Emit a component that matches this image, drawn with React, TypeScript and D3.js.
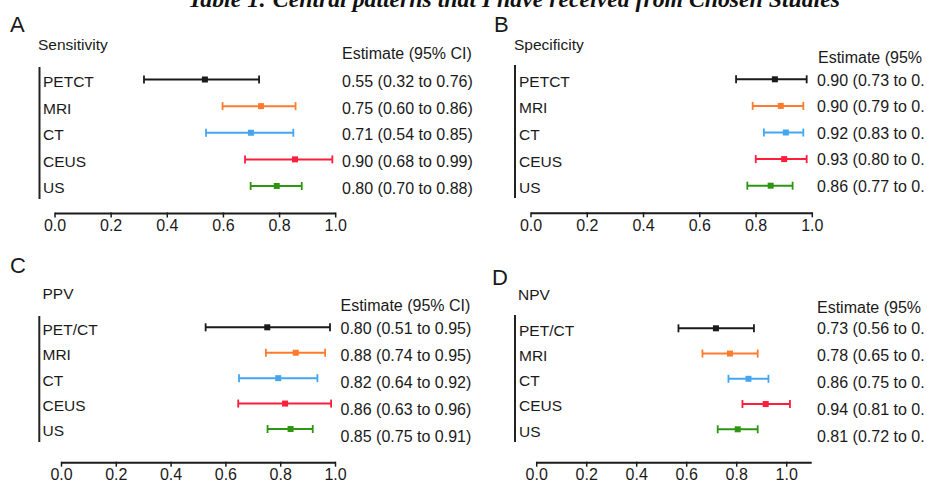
import React from "react";
import * as d3 from "d3";

// categories
const catsAB = ["PETCT", "MRI", "CT", "CEUS", "US"];
const catsCD = ["PET/CT", "MRI", "CT", "CEUS", "US"];
const colors = ["#1a1a1a", "#ff7b2e", "#45a6f0", "#ff1d3c", "#2e9610"];
const xTicks = [0, 0.2, 0.4, 0.6, 0.8, 1.0];

// A - sensitivity (plotted point, lower, upper)
const sensEst = [0.534, 0.734, 0.698, 0.855, 0.79];
const sensLo = [0.317, 0.597, 0.538, 0.677, 0.697];
const sensHi = [0.727, 0.857, 0.849, 0.988, 0.879];
const sensText = [
  "0.55 (0.32 to 0.76)",
  "0.75 (0.60 to 0.86)",
  "0.71 (0.54 to 0.85)",
  "0.90 (0.68 to 0.99)",
  "0.80 (0.70 to 0.88)",
];

// B - specificity
const specEst = [0.867, 0.888, 0.906, 0.9, 0.852];
const specLo = [0.729, 0.788, 0.828, 0.799, 0.769];
const specHi = [0.98, 0.968, 0.968, 0.98, 0.93];
const specText = [
  "0.90 (0.73 to 0.",
  "0.90 (0.79 to 0.",
  "0.92 (0.83 to 0.",
  "0.93 (0.80 to 0.",
  "0.86 (0.77 to 0.",
];

// C - PPV
const ppvEst = [0.751, 0.855, 0.791, 0.816, 0.836];
const ppvLo = [0.526, 0.746, 0.648, 0.645, 0.752];
const ppvHi = [0.98, 0.962, 0.934, 0.984, 0.917];
const ppvText = [
  "0.80 (0.51 to 0.95)",
  "0.88 (0.74 to 0.95)",
  "0.82 (0.64 to 0.92)",
  "0.86 (0.63 to 0.96)",
  "0.85 (0.75 to 0.91)",
];

// D - NPV
const npvEst = [0.717, 0.773, 0.847, 0.916, 0.804];
const npvLo = [0.567, 0.663, 0.767, 0.823, 0.724];
const npvHi = [0.869, 0.884, 0.927, 1.013, 0.884];
const npvText = [
  "0.73 (0.56 to 0.",
  "0.78 (0.65 to 0.",
  "0.86 (0.75 to 0.",
  "0.94 (0.81 to 0.",
  "0.81 (0.72 to 0.",
];

const sans = "'Liberation Sans', Arial, Helvetica, sans-serif";

function Panel(props: any) {
  const p = props;
  const x = d3.scaleLinear().domain([0, 1]).range(p.xRange);
  const y = d3.scalePoint().domain(p.cats).range(p.rowRange);
  const yv = d3.scalePoint().domain(p.cats).range(p.valRange);
  const axisEnd = p.axisMax || 1;
  return (
    <g fontFamily={sans} fill="#1a1a1a">
      <text x={p.letterPos[0]} y={p.letterPos[1]} fontSize={22}>{p.letter}</text>
      <text x={p.titlePos[0]} y={p.titlePos[1]} dy="0.35em" fontSize={15.5}>{p.title}</text>
      <text x={p.headPos[0]} y={p.headPos[1]} dy="0.35em" fontSize={16}>{p.head}</text>
      <line x1={p.vline[0]} x2={p.vline[0]} y1={p.vline[1]} y2={p.vline[2]} stroke="#222" strokeWidth={2} />
      {p.cats.map((c: string, i: number) => {
        const yy = y(c) as number;
        const col = colors[i];
        return (
          <g key={c}>
            <text x={p.labelX} y={yy + 2} dy="0.35em" fontSize={15.5}>{c}</text>
            <line x1={x(p.lo[i])} x2={x(p.hi[i])} y1={yy} y2={yy} stroke={col} strokeWidth={2} />
            <line x1={x(p.lo[i])} x2={x(p.lo[i])} y1={yy - 4} y2={yy + 4} stroke={col} strokeWidth={1.8} />
            <line x1={x(p.hi[i])} x2={x(p.hi[i])} y1={yy - 4} y2={yy + 4} stroke={col} strokeWidth={1.8} />
            <rect x={x(p.est[i]) - 3} y={yy - 3} width={6} height={6} fill={col} />
            <text x={p.valX} y={yv(c) as number} dy="0.35em" fontSize={16}>{p.texts[i]}</text>
          </g>
        );
      })}
      <line x1={x(0)} x2={x(axisEnd)} y1={p.axisY} y2={p.axisY} stroke="#1a1a1a" strokeWidth={2} />
      {xTicks.map((t) => (
        <g key={t}>
          <line x1={x(t)} x2={x(t)} y1={p.axisY - 1} y2={p.axisY + 4} stroke="#1a1a1a" strokeWidth={1.5} />
          <text x={x(t)} y={p.axisY + 12} dy="0.35em" textAnchor="middle" fontSize={16}>{t.toFixed(1)}</text>
        </g>
      ))}
    </g>
  );
}

export default function App() {
  return (
    <svg width={927} height={483} style={{ position: "absolute", left: 0, top: 0, background: "#fff" }}>
      <text x={188} y={7} fontFamily="'Liberation Serif', 'Times New Roman', serif" fontWeight="bold" fontStyle="italic"
        fontSize={24} textLength={652} lengthAdjust="spacingAndGlyphs" fill="#111">
        Table 1: Central patterns that I have received from Chosen Studies
      </text>
      <Panel letter="A" letterPos={[10, 32]} title="Sensitivity" titlePos={[38, 44.5]} headPos={[342, 53.5]}
        head="Estimate (95% CI)"
        vline={[39.5, 67, 199]} cats={catsAB} rowRange={[79.5, 186]} valRange={[81.7, 188]}
        labelX={43} valX={342} axisY={213.5} xRange={[55, 335.7]}
        est={sensEst} lo={sensLo} hi={sensHi} texts={sensText} />
      <Panel letter="B" letterPos={[494, 32]} title="Specificity" titlePos={[514, 45]} headPos={[818, 57.5]}
        head="Estimate (95%"
        vline={[515, 65, 198]} cats={catsAB} rowRange={[79.3, 185.7]} valRange={[80, 186]}
        labelX={519} valX={817} axisY={213.3} xRange={[531, 812.3]}
        est={specEst} lo={specLo} hi={specHi} texts={specText} />
      <Panel letter="C" letterPos={[10, 273]} title="PPV" titlePos={[42.5, 293.5]} headPos={[340.5, 305]}
        head="Estimate (95% CI)"
        vline={[39.3, 316, 442]} cats={catsCD} rowRange={[327.3, 429]} valRange={[328.3, 436.5]}
        labelX={42.5} valX={340.5} axisY={462.7} xRange={[61.5, 335.5]}
        est={ppvEst} lo={ppvLo} hi={ppvHi} texts={ppvText} />
      <Panel letter="D" letterPos={[492, 285]} title="NPV" titlePos={[518, 295]} headPos={[817, 307]}
        head="Estimate (95%"
        vline={[515, 315, 442]} cats={catsCD} rowRange={[328.3, 429.3]} valRange={[328.3, 436]}
        labelX={519} valX={817} axisY={462.7} xRange={[536.7, 786.7]} axisMax={1.1}
        est={npvEst} lo={npvLo} hi={npvHi} texts={npvText} />
    </svg>
  );
}
